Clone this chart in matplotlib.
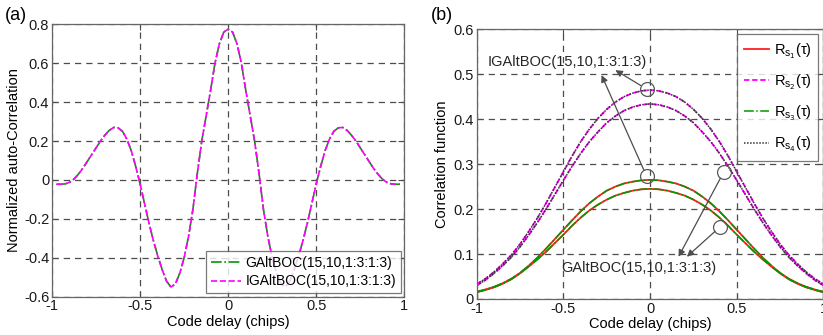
import numpy as np
import matplotlib
matplotlib.use('Agg')
import matplotlib.pyplot as plt

plt.rcParams['font.family'] = ['Liberation Sans', 'DejaVu Sans']
plt.rcParams['axes.unicode_minus'] = False

# panel (a): normalized auto-correlation
delay_a = np.round(np.arange(-0.975, 0.976, 0.025), 3)
galtboc_a = [-0.022, -0.022, -0.020, -0.012, 0.005, 0.030, 0.060, 0.095, 0.130, 0.165,
             0.200, 0.230, 0.255, 0.270, 0.268, 0.250, 0.210, 0.150, 0.070, -0.020,
             -0.120, -0.220, -0.310, -0.390, -0.460, -0.520, -0.550, -0.535, -0.480, -0.400,
             -0.290, -0.150, 0.035, 0.200, 0.330, 0.460, 0.600, 0.700, 0.760,
             0.775,
             0.760, 0.700, 0.600, 0.460, 0.330, 0.200, 0.035, -0.150, -0.290, -0.400,
             -0.480, -0.535, -0.550, -0.520, -0.460, -0.390, -0.310, -0.220, -0.120, -0.020,
             0.070, 0.150, 0.210, 0.250, 0.268, 0.270, 0.255, 0.230, 0.200, 0.165,
             0.130, 0.095, 0.060, 0.030, 0.005, -0.012, -0.020, -0.022, -0.022]
igaltboc_a = list(galtboc_a)

# panel (b): correlation functions
delay_b = np.round(np.arange(-1.0, 1.001, 0.05), 3)
ig_high = [0.033, 0.045, 0.060, 0.078, 0.098, 0.122, 0.150, 0.180, 0.213, 0.248,
           0.283, 0.318, 0.350, 0.378, 0.402, 0.422, 0.438, 0.450, 0.458, 0.463,
           0.465,
           0.463, 0.458, 0.450, 0.438, 0.422, 0.402, 0.378, 0.350, 0.318, 0.283,
           0.248, 0.213, 0.180, 0.150, 0.122, 0.098, 0.078, 0.060, 0.045, 0.033]
ig_low = [0.030, 0.042, 0.057, 0.074, 0.093, 0.116, 0.142, 0.170, 0.200, 0.232,
          0.264, 0.295, 0.324, 0.350, 0.372, 0.392, 0.407, 0.419, 0.427, 0.432,
          0.434,
          0.432, 0.427, 0.419, 0.407, 0.392, 0.372, 0.350, 0.324, 0.295, 0.264,
          0.232, 0.200, 0.170, 0.142, 0.116, 0.093, 0.074, 0.057, 0.042, 0.030]
g_high = [0.016, 0.021, 0.027, 0.035, 0.045, 0.058, 0.074, 0.092, 0.112, 0.133,
          0.154, 0.175, 0.195, 0.213, 0.228, 0.241, 0.250, 0.257, 0.261, 0.264,
          0.265,
          0.264, 0.261, 0.257, 0.250, 0.241, 0.228, 0.213, 0.195, 0.175, 0.154,
          0.133, 0.112, 0.092, 0.074, 0.058, 0.045, 0.035, 0.027, 0.021, 0.016]
g_low = [0.015, 0.020, 0.026, 0.034, 0.044, 0.057, 0.072, 0.088, 0.105, 0.124,
         0.143, 0.163, 0.181, 0.197, 0.210, 0.221, 0.230, 0.236, 0.241, 0.244,
         0.245,
         0.244, 0.241, 0.236, 0.230, 0.221, 0.210, 0.197, 0.181, 0.163, 0.143,
         0.124, 0.105, 0.088, 0.072, 0.057, 0.044, 0.034, 0.026, 0.020, 0.015]

circles_b = [(-0.02, 0.467), (-0.02, 0.273), (0.424, 0.282), (0.405, 0.161)]
arrows_b = [((-0.02, 0.467), (-0.20, 0.509)),
            ((-0.02, 0.273), (-0.28, 0.498)),
            ((0.424, 0.282), (0.164, 0.094)),
            ((0.405, 0.161), (0.212, 0.094))]

GREY = '0.3'
MAG = '#ff00ff'
GRN = '#009900'
RED = '#ff2020'


def style_axes(ax):
    ax.grid(True, linestyle=(0, (5, 4)), color=GREY, linewidth=0.9)
    ax.tick_params(direction='in', length=4, color=GREY, labelsize=10.5,
                   labelcolor='0.1', top=True, right=True, pad=2)
    for s in ax.spines.values():
        s.set_color('0.4')
        s.set_linewidth(0.9)


fig = plt.figure(figsize=(8.23, 3.35), dpi=100)

ax1 = fig.add_axes([0.0632, 0.1143, 0.4281, 0.8131])
ax1.plot(delay_a, galtboc_a, color=GRN, linestyle='-.', linewidth=1.2,
         label='GAltBOC(15,10,1:3:1:3)')
ax1.plot(delay_a, igaltboc_a, color=MAG, linestyle='--', linewidth=1.2,
         label='IGAltBOC(15,10,1:3:1:3)')
ax1.set_xlim(-1, 1)
ax1.set_ylim(-0.6, 0.8)
ax1.set_xticks([-1, -0.5, 0, 0.5, 1])
ax1.set_xticklabels(['-1', '-0.5', '0', '0.5', '1'])
yt = [-0.6, -0.4, -0.2, 0, 0.2, 0.4, 0.6, 0.8]
ax1.set_yticks(yt)
ax1.set_yticklabels(['-0.6', '-0.4', '-0.2', '0', '0.2', '0.4', '0.6', '0.8'])
style_axes(ax1)
ax1.set_xlabel('Code delay (chips)', fontsize=10.5, labelpad=1)
ax1.set_ylabel('Normalized auto-Correlation', fontsize=10.5, labelpad=2)
leg1 = ax1.legend(loc='lower right', fontsize=10, frameon=True, fancybox=False,
                  borderaxespad=0.25, handlelength=2.2, handletextpad=0.3,
                  labelspacing=0.3, borderpad=0.35)
leg1.get_frame().set_edgecolor('0.35')
leg1.get_frame().set_linewidth(0.9)

ax2 = fig.add_axes([0.5792, 0.1075, 0.4214, 0.8051])
h1, = ax2.plot(delay_b, g_high, color=RED, linestyle='-', linewidth=1.3)
ax2.plot(delay_b, g_low, color=RED, linestyle='-', linewidth=1.3)
h2, = ax2.plot(delay_b, ig_high, color=MAG, linestyle=(0, (3, 1.5)), linewidth=1.3)
ax2.plot(delay_b, ig_low, color=MAG, linestyle=(0, (3, 1.5)), linewidth=1.3)
h3, = ax2.plot(delay_b, g_high, color=GRN, linestyle='-.', linewidth=1.1)
ax2.plot(delay_b, g_low, color=GRN, linestyle='-.', linewidth=1.1)
h4, = ax2.plot(delay_b, ig_high, color='0.2', linestyle=(0, (1, 1)), linewidth=1.1)
ax2.plot(delay_b, ig_low, color='0.2', linestyle=(0, (1, 1)), linewidth=1.1)
ax2.set_xlim(-1, 1)
ax2.set_ylim(0, 0.6)
ax2.set_xticks([-1, -0.5, 0, 0.5, 1])
ax2.set_xticklabels(['-1', '-0.5', '0', '0.5', '1'])
ax2.set_yticks([0, 0.1, 0.2, 0.3, 0.4, 0.5, 0.6])
ax2.set_yticklabels(['0', '0.1', '0.2', '0.3', '0.4', '0.5', '0.6'])
style_axes(ax2)
ax2.set_xlabel('Code delay (chips)', fontsize=10.5, labelpad=1)
ax2.set_ylabel('Correlation function', fontsize=10.5, labelpad=3)

labels_b = [r'R$_{\mathregular{s}_{%d}}$(τ)' % i for i in range(1, 5)]
leg2 = ax2.legend([h1, h2, h3, h4], labels_b, loc='upper right', fontsize=10.5,
                  frameon=True, fancybox=False, borderaxespad=0.35,
                  handlelength=1.7, handletextpad=0.35, labelspacing=0.8,
                  borderpad=0.45)
leg2.get_frame().set_edgecolor('0.35')
leg2.get_frame().set_linewidth(0.9)

for cx, cy in circles_b:
    ax2.plot(cx, cy, 'o', markersize=10, markerfacecolor='none',
             markeredgecolor='0.35', markeredgewidth=0.9)
for tail, head in arrows_b:
    ax2.annotate('', xy=head, xytext=tail,
                 arrowprops=dict(arrowstyle='-|>', color='0.3', lw=0.9,
                                 shrinkA=5, shrinkB=0, mutation_scale=10))
ax2.text(-0.475, 0.527, 'IGAltBOC(15,10,1:3:1:3)', fontsize=10.5,
         ha='center', va='center', color='0.15')
ax2.text(-0.066, 0.0696, 'GAltBOC(15,10,1:3:1:3)', fontsize=10.5,
         ha='center', va='center', color='0.15')

fig.text(5 / 823, 1 - 15 / 335, '(a)', fontsize=13, va='center', ha='left')
fig.text(431 / 823, 1 - 15 / 335, '(b)', fontsize=13, va='center', ha='left')

fig.savefig('out.png', dpi=100)
